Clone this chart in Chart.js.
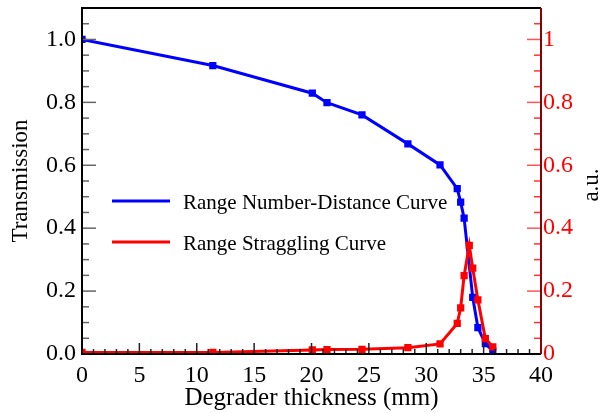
<!DOCTYPE html>
<html>
<head>
<meta charset="utf-8">
<script src="https://cdn.jsdelivr.net/npm/chart.js@4"></script>
<style>
  html, body { margin: 0; padding: 0; background: #fff; }
  #wrap { width: 603px; height: 413px; }
</style>
</head>
<body>
<div id="wrap"><canvas id="chart" width="603" height="413"></canvas></div>
<script>
// thickness values (mm); null = no point for that series
const thickness = [0, 11.4, 20.07, 21.35, 24.4, 28.4, 31.2, 32.7, 33.0, 33.3, 33.75, 34.05, 34.5, 35.15, 35.8];
const transmission = [1.0, 0.917, 0.829, 0.799, 0.760, 0.668, 0.601, 0.526, 0.483, 0.432, null, 0.18, 0.084, 0.033, 0.01];
const straggling = [0.005, 0.005, 0.013, 0.014, 0.015, 0.020, 0.032, 0.097, 0.147, 0.249, 0.345, 0.273, 0.172, 0.049, 0.023];

const seriesNames = ["Range Number-Distance Curve", "Range Straggling Curve"];
const xTitle = "Degrader thickness (mm)";
const yTitle = "Transmission";
const y1Title = "a.u.";

const serif = "'Liberation Serif', 'DejaVu Serif', serif";

function toPoints(xs, ys) {
  return xs.map((x, i) => ({ x: x, y: ys[i] }));
}

// ticks drawn inside the plot frame, with minor ticks
const insideTicks = {
  id: 'insideTicks',
  afterDatasetsDraw(chart) {
    const ctx = chart.ctx;
    const a = chart.chartArea;
    const xs = chart.scales.x, ys = chart.scales.y, ys1 = chart.scales.y1;
    ctx.save();
    ctx.lineWidth = 1.5;

    // bottom
    ctx.strokeStyle = '#222';
    for (let v = 0; v <= 40; v += 1) {
      const px = xs.getPixelForValue(v);
      const len = v % 5 === 0 ? 11 : 5;
      ctx.beginPath(); ctx.moveTo(px, a.bottom); ctx.lineTo(px, a.bottom - len); ctx.stroke();
    }
    // left
    ctx.strokeStyle = '#666';
    for (let i = 0; i <= 22; i++) {
      const v = i * 0.05;
      const py = ys.getPixelForValue(v);
      const len = i % 4 === 0 ? 14 : 7;
      ctx.beginPath(); ctx.moveTo(a.left, py); ctx.lineTo(a.left + len, py); ctx.stroke();
    }
    // right
    for (let i = 0; i <= 22; i++) {
      const v = i * 0.05;
      const py = ys1.getPixelForValue(v);
      const major = i % 4 === 0;
      ctx.strokeStyle = major ? '#ff5555' : '#ff3333';
      const len = major ? 14 : 7;
      ctx.beginPath(); ctx.moveTo(a.right, py); ctx.lineTo(a.right - len, py); ctx.stroke();
    }

    // frame
    ctx.lineWidth = 2;
    ctx.strokeStyle = '#000';
    ctx.beginPath();
    ctx.moveTo(a.right, a.top); ctx.lineTo(a.left, a.top); ctx.lineTo(a.left, a.bottom); ctx.lineTo(a.right, a.bottom);
    ctx.stroke();
    ctx.strokeStyle = '#8b0000';
    ctx.beginPath(); ctx.moveTo(a.right, a.top); ctx.lineTo(a.right, a.bottom); ctx.stroke();

    // right axis title, reading bottom to top
    ctx.save();
    ctx.translate(592, (a.top + a.bottom) / 2 + 4);
    ctx.rotate(-Math.PI / 2);
    ctx.font = "23px " + serif;
    ctx.fillStyle = '#000';
    ctx.textAlign = 'center';
    ctx.textBaseline = 'middle';
    ctx.fillText(y1Title, 0, 0);
    ctx.restore();

    // legend inside plot
    const items = chart.data.datasets;
    const lx = 112, ly0 = 201;
    ctx.font = "21px " + serif;
    ctx.textBaseline = 'middle';
    ctx.fillStyle = '#000';
    items.forEach((ds, i) => {
      const ly = ly0 + i * 41;
      ctx.strokeStyle = ds.borderColor;
      ctx.lineWidth = 3;
      ctx.beginPath(); ctx.moveTo(lx, ly); ctx.lineTo(lx + 58, ly); ctx.stroke();
      ctx.fillText(ds.label, 183, ly + 2);
    });
    ctx.restore();
  }
};

new Chart(document.getElementById('chart'), {
  type: 'line',
  plugins: [insideTicks],
  data: {
    datasets: [
      {
        label: seriesNames[0],
        data: toPoints(thickness, transmission),
        borderColor: '#0000ff',
        backgroundColor: '#0000ff',
        borderWidth: 3,
        pointStyle: 'rect',
        pointRadius: 3,
        spanGaps: true,
        order: 2,
        yAxisID: 'y'
      },
      {
        label: seriesNames[1],
        data: toPoints(thickness, straggling),
        borderColor: '#ff0000',
        backgroundColor: '#ff0000',
        borderWidth: 3,
        pointStyle: 'rect',
        pointRadius: 3,
        order: 1,
        yAxisID: 'y1'
      }
    ]
  },
  options: {
    responsive: false,
    animation: false,
    layout: { padding: { top: 8, left: 0, right: 0, bottom: 0 } },
    plugins: {
      legend: { display: false },
      tooltip: { enabled: false }
    },
    scales: {
      x: {
        type: 'linear',
        min: 0, max: 40,
        grid: { display: false, drawTicks: false },
        border: { display: false },
        ticks: {
          stepSize: 5,
          padding: 7,
          color: '#000',
          font: { family: serif, size: 24 },
          maxRotation: 0
        },
        title: {
          display: true, text: xTitle, color: '#000',
          font: { family: serif, size: 25 }, padding: { top: -8, bottom: 0 }
        },
        afterFit(s) { s.height = 59; s.paddingLeft = 0; s.paddingRight = 0; }
      },
      y: {
        position: 'left',
        min: 0, max: 1.1,
        grid: { display: false, drawTicks: false },
        border: { display: false },
        ticks: {
          stepSize: 0.2,
          includeBounds: false,
          padding: 6,
          color: '#000',
          font: { family: serif, size: 24 },
          callback: v => v.toFixed(1)
        },
        title: {
          display: true, text: yTitle, color: '#000',
          font: { family: serif, size: 23 }, padding: { top: 7, bottom: 4 }
        },
        afterFit(s) { s.width = 82; s.paddingTop = 0; s.paddingBottom = 0; }
      },
      y1: {
        position: 'right',
        min: 0, max: 1.1,
        grid: { display: false, drawTicks: false },
        border: { display: false },
        ticks: {
          stepSize: 0.2,
          includeBounds: false,
          padding: 2,
          color: '#ff0000',
          font: { family: serif, size: 24 },
          callback: v => String(+v.toFixed(1))
        },
        title: { display: false },
        afterFit(s) { s.width = 62; s.paddingTop = 0; s.paddingBottom = 0; }
      }
    }
  }
});
</script>
</body>
</html>
